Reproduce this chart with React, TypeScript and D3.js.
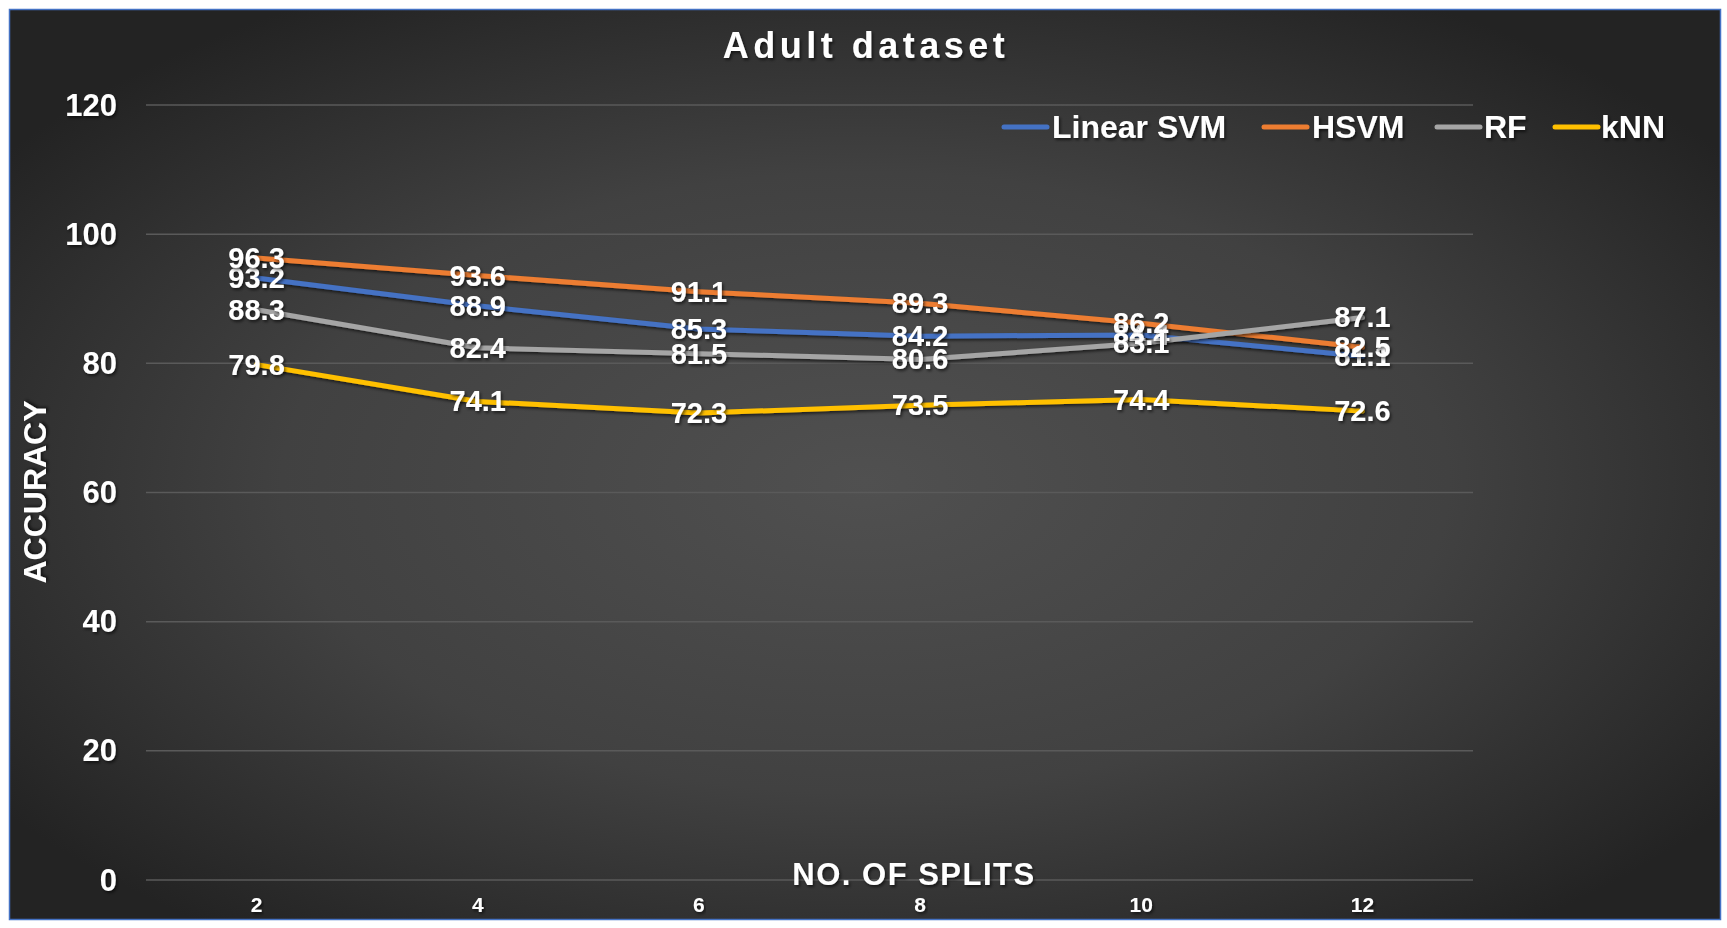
import React from "react";
import * as d3 from "d3";

const categories = ["2", "4", "6", "8", "10", "12"];
const seriesNames = ["Linear SVM", "HSVM", "RF", "kNN"];
const linearSvm = [93.2, 88.9, 85.3, 84.2, 84.4, 81.1];
const hsvm = [96.3, 93.6, 91.1, 89.3, 86.2, 82.5];
const rf = [88.3, 82.4, 81.5, 80.6, 83.1, 87.1];
const knn = [79.8, 74.1, 72.3, 73.5, 74.4, 72.6];
const yTicks = [0, 20, 40, 60, 80, 100, 120];
const colors = ["#4472C4", "#ED7D31", "#A5A5A5", "#FFC000"];

const W = 1727;
const H = 928;
const FONT = "'Liberation Sans', Arial, sans-serif";

export default function App() {
  const series = [linearSvm, hsvm, rf, knn];
  const x = d3.scaleBand<string>().domain(categories).range([146, 1473]);
  const cx = (c: string) => (x(c) as number) + x.bandwidth() / 2;
  const y = d3.scaleLinear().domain([0, 120]).range([880, 105]);
  const line = d3
    .line<number>()
    .x((_, i) => cx(categories[i]))
    .y((d) => y(d));

  const legendItems = [
    { line: 1002, text: 1052 },
    { line: 1262, text: 1312 },
    { line: 1435, text: 1484 },
    { line: 1553, text: 1601 },
  ];

  return (
    <svg
      width={W}
      height={H}
      style={{ position: "absolute", left: 0, top: 0, display: "block" }}
      fontFamily={FONT}
    >
      <defs>
        <radialGradient id="bg" cx="50%" cy="52%" r="62%" fx="50%" fy="52%">
          <stop offset="0%" stopColor="#505050" />
          <stop offset="55%" stopColor="#414141" />
          <stop offset="100%" stopColor="#232323" />
        </radialGradient>
        <filter id="sh" x="-10%" y="-30%" width="120%" height="160%">
          <feDropShadow dx="1.5" dy="2" stdDeviation="1.5" floodColor="#000" floodOpacity="0.6" />
        </filter>
      </defs>
      <rect x={0} y={0} width={W} height={H} fill="#ffffff" />
      <rect
        x={9.5}
        y={9.5}
        width={1711}
        height={910}
        fill="url(#bg)"
        stroke="#4472C4"
        strokeWidth={1.5}
      />
      {yTicks.map((t) => (
        <line
          key={"g" + t}
          x1={146}
          x2={1473}
          y1={y(t)}
          y2={y(t)}
          stroke="#5a5a5a"
          strokeWidth={1.5}
        />
      ))}
      {yTicks.map((t) => (
        <text
          key={"yt" + t}
          x={117}
          y={y(t)}
          textAnchor="end"
          dominantBaseline="central"
          fill="#ffffff"
          fontSize={31}
          fontWeight="bold"
          filter="url(#sh)"
        >
          {t}
        </text>
      ))}
      {categories.map((c) => (
        <text
          key={"xt" + c}
          x={cx(c)}
          y={912}
          textAnchor="middle"
          fill="#ffffff"
          fontSize={21}
          fontWeight="bold"
          filter="url(#sh)"
        >
          {c}
        </text>
      ))}
      <text
        x={914}
        y={885}
        textAnchor="middle"
        fill="#ffffff"
        fontSize={31}
        fontWeight="bold"
        letterSpacing={1.5}
        filter="url(#sh)"
      >
        NO. OF SPLITS
      </text>
      <text
        transform="translate(46,492) rotate(-90)"
        textAnchor="middle"
        fill="#ffffff"
        fontSize={32}
        fontWeight="bold"
        filter="url(#sh)"
      >
        ACCURACY
      </text>
      <text
        x={866}
        y={58}
        textAnchor="middle"
        fill="#ffffff"
        fontSize={36}
        fontWeight="bold"
        letterSpacing={4.5}
        filter="url(#sh)"
      >
        Adult dataset
      </text>
      {series.map((s, i) => (
        <path
          key={"l" + i}
          d={line(s) as string}
          fill="none"
          stroke={colors[i]}
          strokeWidth={5}
          strokeLinecap="round"
          strokeLinejoin="round"
          filter="url(#sh)"
        />
      ))}
      {series.map((s, i) =>
        s.map((v, j) => (
          <text
            key={"d" + i + "-" + j}
            x={cx(categories[j])}
            y={y(v)}
            textAnchor="middle"
            dominantBaseline="central"
            fill="#ffffff"
            fontSize={29}
            fontWeight="bold"
            filter="url(#sh)"
          >
            {v.toFixed(1)}
          </text>
        ))
      )}
      {seriesNames.map((n, i) => (
        <g key={"lg" + i}>
          <line
            x1={legendItems[i].line + 2}
            x2={legendItems[i].line + 45}
            y1={127}
            y2={127}
            stroke={colors[i]}
            strokeWidth={5}
            strokeLinecap="round"
          />
          <text
            x={legendItems[i].text}
            y={127}
            dominantBaseline="central"
            fill="#ffffff"
            fontSize={32}
            fontWeight="bold"
            filter="url(#sh)"
          >
            {n}
          </text>
        </g>
      ))}
    </svg>
  );
}
